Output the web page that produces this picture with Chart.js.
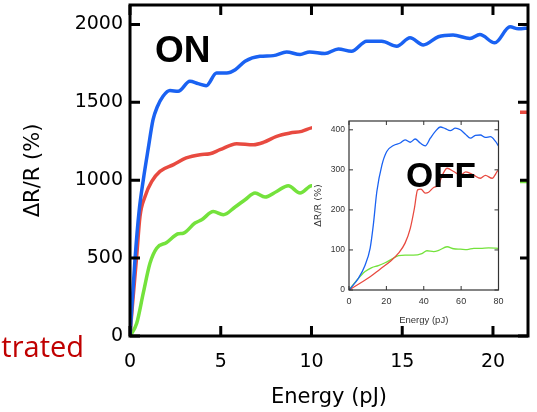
<!DOCTYPE html>
<html><head><meta charset="utf-8">
<script src="https://cdn.jsdelivr.net/npm/chart.js@4.4.1/dist/chart.umd.min.js"></script>
<style>
html,body{margin:0;padding:0;background:#fff;overflow:hidden}
#wrap{position:relative;width:537px;height:412px}
#main{position:absolute;left:0;top:0}
#insetBox{position:absolute;left:312px;top:108px;width:208px;height:218px;background:#fff}
</style></head><body>
<div id="wrap">
<canvas id="main" width="537" height="412"></canvas>
<div id="insetBox"><canvas id="inset" width="208" height="218"></canvas></div>
</div>
<script>
// ---------- main (ON) data ----------
const onBlueE = [0,0.28,0.5,0.73,1.0,1.27,1.5,1.82,2.2,2.65,3.3,3.75,4.2,4.77,5.33,5.8,6.34,7.16,7.9,8.63,9.37,9.9,10.74,11.48,12.2,13.04,13.87,14.7,15.43,16.16,16.99,17.8,18.73,19.28,20.1,20.94,21.4,21.95];
const onBlueV = [0,500,800,1000,1200,1389,1470,1539,1576,1571,1635,1620,1607,1689,1689,1710,1764,1796,1800,1824,1807,1824,1813,1843,1828,1893,1893,1860,1914,1869,1921,1932,1910,1935,1882,1985,1972,1978];
const onRedE = [0,0.1,0.36,0.55,0.83,1.2,1.65,2.4,3.1,3.86,4.4,4.96,5.88,6.8,7.35,8.08,8.82,9.46,10.0,21.4,22];
const onRedV = [0,150,500,767,896,992,1057,1100,1143,1164,1170,1196,1235,1228,1243,1282,1303,1314,1336,1437,1437];
const onGreenE = [0,0.37,0.73,1.1,1.47,2.02,2.66,2.94,3.58,3.95,4.59,5.14,5.79,6.34,6.89,7.44,8.08,8.72,9.37,10.01,21.4,22];
const onGreenV = [0,82,275,467,564,600,656,660,725,746,799,778,828,875,918,892,928,965,918,965,992,992];
const xTicksMain = [0,5,10,15,20];
const yTicksMain = [0,500,1000,1500,2000];

// ---------- inset (OFF) data ----------
const offBlueE = [0,5,8.6,11.3,13,14.9,17.6,20.2,23.8,27.4,30,32.8,35.4,38.1,40.8,43.5,46.2,48.9,51.5,54.2,56.9,59.6,62.3,65,67.6,70.3,73,75.7,78.4,80];
const offBlueV = [0,29,62,104,162,246,312,346,361,367,375,369,377,367,360,379,396,407,403,398,404,400,389,379,386,387,381,383,371,360];
const offRedE = [0,5.9,11.3,16.6,22,26.5,30,32.8,35,36.7,38.5,40.8,42.6,45.3,48,49,52.5,56,59.6,62.5,66.7,70.3,73,76.6,79.3,80];
const offRedV = [0,17,33,52,71,92,117,154,204,250,252,242,244,256,262,276,304,296,287,295,287,279,286,279,296,300];
const offGreenE = [0,4.1,8.6,12.2,15.7,19.3,22.9,26.5,30,34.4,39,41.7,45.3,48,52.5,56,59.6,63.2,66.8,70.3,74.7,80];
const offGreenV = [0,24,46,56,61,68,77,86,87,87,91,98,96,99,108,103,102,101,104,104,105,104];
const xTicksInset = [0,20,40,60,80];
const yTicksInset = [0,100,200,300,400];

const BLUE = '#1a62f2', RED = '#e84a40', GREEN = '#74e23c';
const pts = (E, V) => E.map((e, i) => ({x: e, y: V[i]}));

function frameTicks(id, color, frameW, tickW, L) {
  return {
    id,
    afterDatasetsDraw(chart) {
      const {ctx, chartArea: a, scales: {x, y}} = chart;
      ctx.save();
      ctx.strokeStyle = color;
      ctx.lineWidth = tickW;
      ctx.beginPath();
      x.ticks.forEach(t => {
        const p = x.getPixelForValue(t.value);
        ctx.moveTo(p, a.bottom); ctx.lineTo(p, a.bottom - L);
        ctx.moveTo(p, a.top); ctx.lineTo(p, a.top + L);
      });
      y.ticks.forEach(t => {
        const p = y.getPixelForValue(t.value);
        ctx.moveTo(a.left, p); ctx.lineTo(a.left + L, p);
        ctx.moveTo(a.right, p); ctx.lineTo(a.right - L, p);
      });
      ctx.stroke();
      ctx.lineWidth = frameW;
      ctx.strokeRect(a.left, a.top, a.right - a.left, a.bottom - a.top);
      ctx.restore();
    }
  };
}

const mainLabels = {
  id: 'mainLabels',
  afterDraw(chart) {
    const ctx = chart.ctx;
    ctx.save();
    ctx.fillStyle = '#000';
    ctx.textBaseline = 'alphabetic';
    ctx.textAlign = 'left';
    ctx.font = 'bold 37px "Liberation Sans", Arial, sans-serif';
    ctx.fillText('ON', 155, 62);
    ctx.fillStyle = '#c00000';
    ctx.textAlign = 'right';
    ctx.font = '29px "Open Sans", sans-serif';
    ctx.fillText('Concentrated', 84, 357);
    ctx.restore();
  }
};
const insetLabels = {
  id: 'insetLabels',
  afterDraw(chart) {
    const ctx = chart.ctx;
    ctx.save();
    ctx.fillStyle = '#000';
    ctx.textBaseline = 'alphabetic';
    ctx.textAlign = 'left';
    ctx.font = 'bold 35px "Liberation Sans", Arial, sans-serif';
    ctx.fillText('OFF', 94, 79);
    ctx.restore();
  }
};

const lineDS = (label, E, V, color, w) => ({
  label, data: pts(E, V), borderColor: color, backgroundColor: color,
  borderWidth: w, pointRadius: 0, fill: false, cubicInterpolationMode: 'monotone'
});
const plain = v => String(v);
const fixX = h => s => { s.height = h; s.paddingLeft = 0; s.paddingRight = 0; };
const fixY = w => s => { s.width = w; s.paddingTop = 0; s.paddingBottom = 0; };
const noGrid = { display: false, drawTicks: false };

new Chart(document.getElementById('main'), {
  type: 'line',
  data: { datasets: [
    lineDS('Blue', onBlueE, onBlueV, BLUE, 3.5),
    lineDS('Red', onRedE, onRedV, RED, 3.5),
    lineDS('Green', onGreenE, onGreenV, GREEN, 3.5)
  ]},
  options: {
    responsive: false, animation: false, devicePixelRatio: 1,
    layout: { padding: { left: 0, top: 5, right: 9, bottom: 0 } },
    plugins: { legend: { display: false }, tooltip: { enabled: false } },
    scales: {
      x: {
        type: 'linear', min: 0, max: 21.93,
        grid: noGrid, border: { display: false },
        afterBuildTicks: s => { s.ticks = xTicksMain.map(v => ({value: v})); },
        afterFit: fixX(76),
        ticks: { color: '#000', padding: 15, callback: plain, font: { family: '"DejaVu Sans", sans-serif', size: 19 } },
        title: { display: true, text: 'Energy (pJ)', color: '#000', padding: { top: 0, bottom: 2 },
                 font: { family: '"DejaVu Sans", sans-serif', size: 21 } }
      },
      y: {
        type: 'linear', min: 0, max: 2125,
        grid: noGrid, border: { display: false },
        afterBuildTicks: s => { s.ticks = yTicksMain.map(v => ({value: v})); },
        afterFit: fixY(130),
        ticks: { color: '#000', padding: 7, callback: plain, font: { family: '"DejaVu Sans", sans-serif', size: 19 } },
        title: { display: true, text: 'ΔR/R (%)', color: '#000', padding: { top: 21, bottom: 0 },
                 font: { family: '"DejaVu Sans", sans-serif', size: 21 } }
      }
    }
  },
  plugins: [frameTicks('ft', '#000', 3, 3, 10), mainLabels]
});

const insetFont = '"Liberation Sans Narrow", "Liberation Sans", sans-serif';
new Chart(document.getElementById('inset'), {
  type: 'line',
  data: { datasets: [
    lineDS('Blue', offBlueE, offBlueV, BLUE, 1.3),
    lineDS('Red', offRedE, offRedV, RED, 1.3),
    lineDS('Green', offGreenE, offGreenV, GREEN, 1.3)
  ]},
  options: {
    responsive: false, animation: false, devicePixelRatio: 1,
    layout: { padding: { left: 0, top: 13, right: 21.5, bottom: 0 } },
    plugins: { legend: { display: false }, tooltip: { enabled: false } },
    scales: {
      x: {
        type: 'linear', min: 0, max: 80,
        grid: noGrid, border: { display: false },
        afterBuildTicks: s => { s.ticks = xTicksInset.map(v => ({value: v})); },
        afterFit: fixX(36),
        ticks: { color: '#333', padding: 6, callback: plain, font: { family: insetFont, size: 9 } },
        title: { display: true, text: 'Energy (pJ)', color: '#333', padding: { top: 0, bottom: 0 },
                 font: { family: insetFont, size: 9.5 } }
      },
      y: {
        type: 'linear', min: 0, max: 422,
        grid: noGrid, border: { display: false },
        afterBuildTicks: s => { s.ticks = yTicksInset.map(v => ({value: v})); },
        afterFit: fixY(37),
        ticks: { color: '#333', padding: 4, callback: plain, font: { family: insetFont, size: 8.5 } },
        title: { display: true, text: 'ΔR/R (%)', color: '#333', padding: { top: 1, bottom: 0 },
                 font: { family: '"DejaVu Sans", sans-serif', size: 9.5 } }
      }
    }
  },
  plugins: [frameTicks('fti', '#333', 1.2, 1, 4), insetLabels]
});
</script>
</body></html>
